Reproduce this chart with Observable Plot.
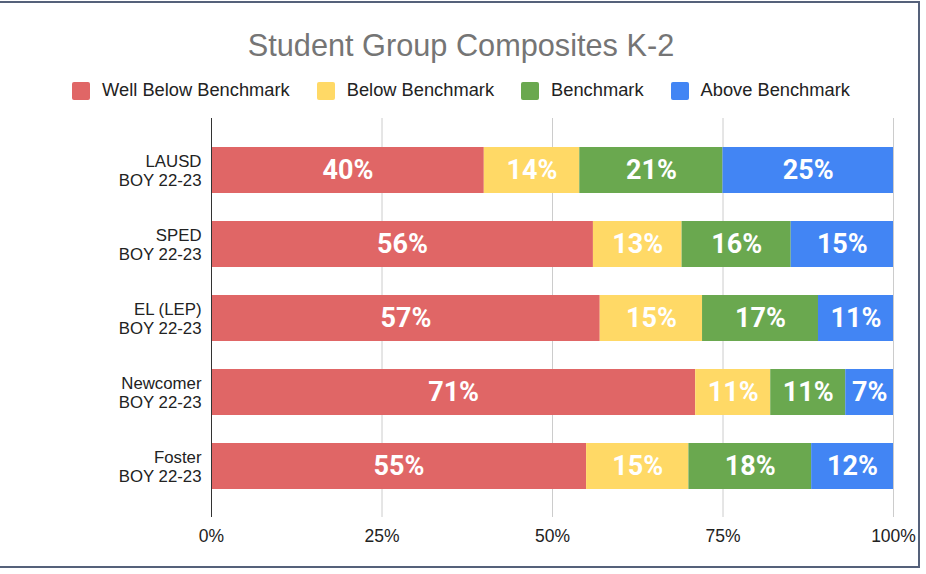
<!DOCTYPE html>
<html>
<head>
<meta charset="utf-8">
<script src="https://cdn.jsdelivr.net/npm/d3@7"></script>
<script src="https://cdn.jsdelivr.net/npm/@observablehq/plot@0.6"></script>
<style>
  html, body { margin: 0; padding: 0; background: #fff; }
  body { width: 926px; height: 574px; position: relative; overflow: hidden; font-family: "Liberation Sans", Arial, sans-serif; }
  #frame { position: absolute; left: -3px; top: 1px; width: 923px; height: 567px; border: 2px solid #55617a; box-sizing: border-box; }
  #title { position: absolute; left: 0; top: 31px; width: 922px; text-align: center; font-size: 30.7px; line-height: 30px; color: #757575; }
  #legend { position: absolute; left: 0; top: 82px; width: 922px; height: 18px; display: flex; justify-content: center; align-items: center; }
  .item { display: flex; align-items: center; margin: 0 13.5px; }
  .sw { width: 18px; height: 18px; border-radius: 2px; margin-right: 12px; }
  .lab { font-size: 18.3px; line-height: 18px; color: #222; position: relative; top: -1px; white-space: nowrap; }
  #chart { position: absolute; left: 0; top: 110px; }
</style>
</head>
<body>
<div id="frame"></div>
<div id="title">Student Group Composites K-2</div>
<div id="legend"></div>
<div id="chart"></div>
<script>
const groups = ["LAUSD", "SPED", "EL (LEP)", "Newcomer", "Foster"];
const period = "BOY 22-23";
const seriesNames = ["Well Below Benchmark", "Below Benchmark", "Benchmark", "Above Benchmark"];
const seriesColors = ["#e06666", "#ffd966", "#6aa84f", "#4285f4"];
const wellBelow = [40, 56, 57, 71, 55];
const below = [14, 13, 15, 11, 15];
const benchmark = [21, 16, 17, 11, 18];
const above = [25, 15, 11, 7, 12];
const xTicks = [0, 25, 50, 75, 100];

const seriesValues = [wellBelow, below, benchmark, above];
const data = [];
groups.forEach((g, i) => {
  seriesNames.forEach((s, j) => {
    data.push({group: g, series: s, value: seriesValues[j][i]});
  });
});

// legend
const legend = document.getElementById("legend");
seriesNames.forEach((s, j) => {
  const item = document.createElement("div");
  item.className = "item";
  const sw = document.createElement("div");
  sw.className = "sw";
  sw.style.background = seriesColors[j];
  const lab = document.createElement("span");
  lab.className = "lab";
  lab.textContent = s;
  item.appendChild(sw);
  item.appendChild(lab);
  legend.appendChild(item);
});

const chart = Plot.plot({
  width: 926,
  height: 450,
  marginLeft: 211,
  marginRight: 33,
  marginTop: 8,
  marginBottom: 43,
  style: {fontFamily: "'Liberation Sans', Arial, sans-serif", fontSize: "17.5px", color: "#222", background: "transparent", overflow: "visible"},
  x: {domain: [0, 100], label: null},
  y: {domain: groups, paddingInner: 0.38, paddingOuter: 0.37, label: null},
  color: {domain: seriesNames, range: seriesColors},
  marks: [
    Plot.gridX(xTicks.slice(1), {stroke: "#cccccc", strokeOpacity: 1, strokeWidth: 1}),
    Plot.barX(data, Plot.stackX({x: "value", y: "group", fill: "series", z: "series", order: seriesNames})),
    Plot.ruleX([0], {stroke: "#333", strokeWidth: 1}),
    Plot.text(data, Plot.stackX({x: "value", y: "group", z: "series", order: seriesNames, text: d => d.value + "%", fill: "white", fontWeight: "bold", fontSize: 27, fontFamily: "Roboto"})),
    Plot.axisX({ticks: xTicks, tickFormat: d => d + "%", tickSize: 0, tickPadding: 12, label: null, fontSize: 17.5}),
    Plot.axisY({tickSize: 0, tickPadding: 10, label: null, tickFormat: d => d + "\n" + period, lineHeight: 1.1, fontSize: 16.8, fill: "#222"})
  ]
});
document.getElementById("chart").appendChild(chart);
</script>
</body>
</html>
